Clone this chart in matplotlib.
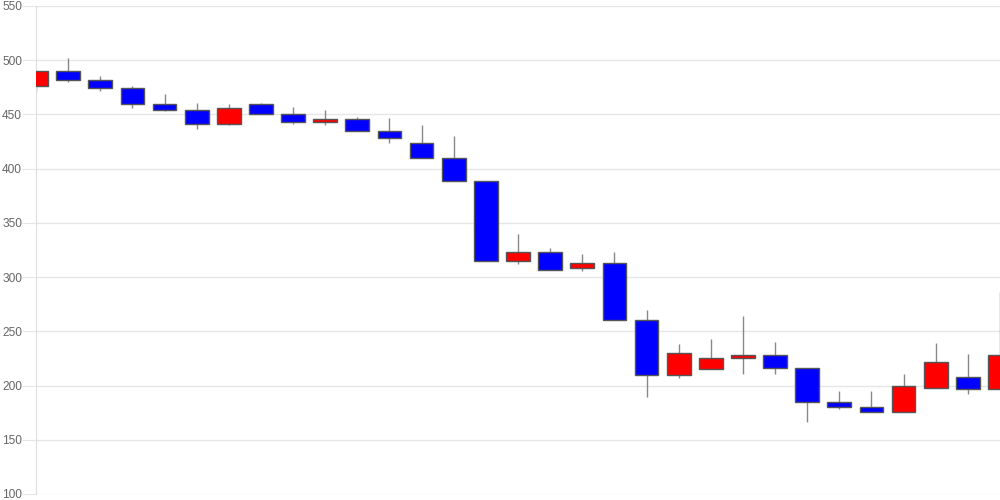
import numpy as np
import matplotlib.pyplot as plt

# ======================================================
# DATA
# ======================================================

opens = [
    476, 490, 482, 474, 460, 454, 441, 460, 450, 443,
    446, 435, 424, 410, 389, 315, 323, 308, 313, 260,
    210, 215, 225, 228, 216, 185, 180, 176, 198, 208,
    197
]

closes = [
    490, 482, 474, 460, 454, 441, 456, 450, 443, 446,
    435, 428, 410, 389, 315, 323, 307, 313, 260, 210,
    230, 225, 228, 216, 185, 180, 176, 200, 222, 197,
    228
]

highs = [
    490, 502, 485, 476, 469, 461, 460, 461, 457, 454,
    448, 447, 440, 430, 389, 340, 327, 321, 323, 270,
    238, 243, 264, 240, 216, 195, 195, 211, 239, 229,
    286
]

lows = [
    472, 480, 472, 456, 453, 437, 440, 450, 441, 440,
    435, 424, 410, 389, 315, 312, 307, 306, 260, 189,
    207, 215, 211, 211, 166, 178, 176, 176, 198, 192,
    197
]

y_ticks = [100, 150, 200, 250, 300, 350, 400, 450, 500, 550]

# ======================================================
# FIGURE
# ======================================================

plt.rcParams["font.family"] = ["Liberation Sans", "DejaVu Sans"]

fig = plt.figure(figsize=(10, 5), dpi=100)

ax = fig.add_axes([0.036, 0.012, 0.964, 0.976])

x = np.arange(len(opens))

body_width = 0.74

for i in x:

    o = opens[i]
    c = closes[i]

    color = "#ff0000" if c >= o else "#0000ff"

    ax.vlines(
        i,
        lows[i],
        highs[i],
        color="#888888",
        linewidth=1,
        zorder=2
    )

    ax.bar(
        i,
        abs(c - o),
        bottom=min(o, c),
        width=body_width,
        color=color,
        edgecolor="#555555",
        linewidth=1,
        zorder=3
    )

# ======================================================
# AXES STYLE
# ======================================================

ax.set_xlim(0, len(opens) - 1)

ax.set_ylim(100, 550)

ax.set_yticks(y_ticks)

ax.set_xticks([])

ax.grid(
    axis="y",
    color="#e6e6e6",
    linewidth=1,
    zorder=0
)

ax.set_axisbelow(True)

for side in ["top", "right", "bottom"]:
    ax.spines[side].set_visible(False)

ax.spines["left"].set_color("#dddddd")

ax.tick_params(
    axis="y",
    length=10,
    color="#e6e6e6",
    labelcolor="#666666",
    labelsize=8.6,
    pad=0
)

fig.savefig("out.png", dpi=100)
